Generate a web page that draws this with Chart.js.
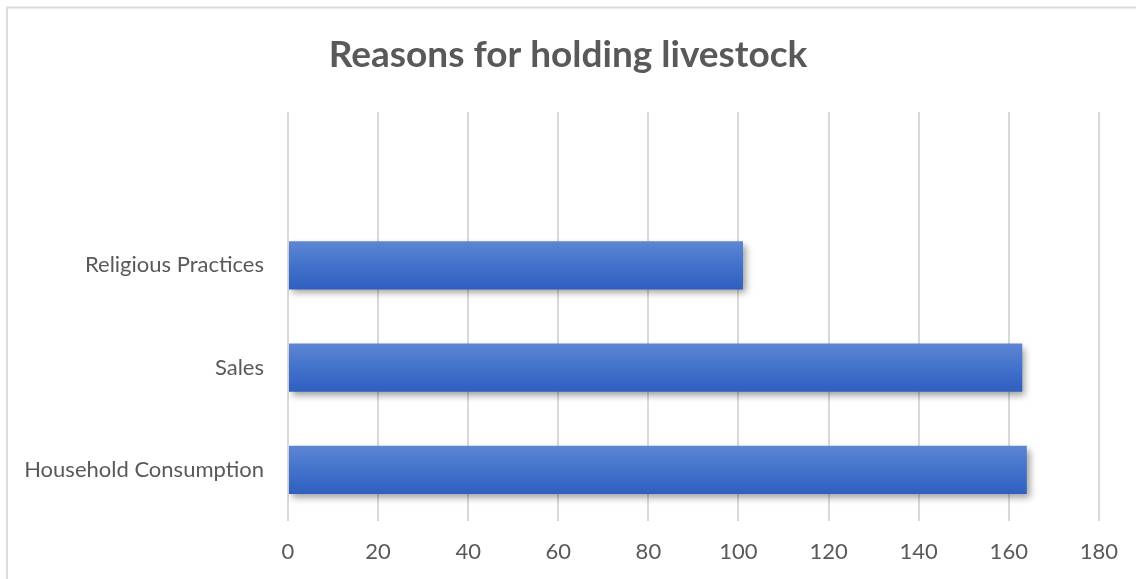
<!DOCTYPE html>
<html>
<head>
<meta charset="utf-8">
<title>Reasons for holding livestock</title>
<script src="https://cdn.jsdelivr.net/npm/chart.js@4.4.1/dist/chart.umd.min.js"></script>
<style>
    html, body { margin: 0; padding: 0; background: #fff; overflow: hidden; }
    #wrap { position: relative; width: 1136px; height: 579px; }
</style>
</head>
<body>
<div id="wrap"><canvas id="livestockChart"></canvas></div>
<script>
// ===== DATOS =====
// top row is an empty slot kept from the source sheet
const categories = ['', 'Religious Practices', 'Sales', 'Household Consumption'];
const counts = [null, 101, 163, 164];
const xTicks = [0, 20, 40, 60, 80, 100, 120, 140, 160, 180];

const chartTitle = 'Reasons for holding livestock';
const textColor = '#595959';
const gridColor = '#d9d9d9';
const fontFamily = "Lato, 'Open Sans', sans-serif";

// outer frame of the chart (left and top edges are visible)
const framePlugin = {
    id: 'frame',
    beforeDraw(chart) {
        const ctx = chart.ctx;
        ctx.save();
        ctx.strokeStyle = '#dcdcdc';
        ctx.lineWidth = 2;
        ctx.beginPath();
        ctx.moveTo(7, chart.height + 5);
        ctx.lineTo(7, 7.5);
        ctx.lineTo(chart.width + 5, 7.5);
        ctx.stroke();
        ctx.restore();
    }
};

// title centred on the whole canvas, not on the padded layout box
const titlePlugin = {
    id: 'centredTitle',
    afterDraw(chart) {
        const ctx = chart.ctx;
        ctx.save();
        ctx.fillStyle = textColor;
        ctx.font = 'bold 37px ' + fontFamily;
        ctx.textAlign = 'center';
        ctx.textBaseline = 'alphabetic';
        ctx.fillText(chartTitle, chart.width / 2, 67);
        ctx.restore();
    }
};

// soft drop shadow under the bars
const shadowPlugin = {
    id: 'barShadow',
    beforeDatasetsDraw(chart) {
        const ctx = chart.ctx;
        ctx.save();
        ctx.shadowColor = 'rgba(0, 0, 0, 0.38)';
        ctx.shadowBlur = 7;
        ctx.shadowOffsetX = 3;
        ctx.shadowOffsetY = 4;
    },
    afterDatasetsDraw(chart) {
        chart.ctx.restore();
    }
};

const barPct = 0.47;

// vertical gradient per bar, positioned from the category scale
function barGradient(context) {
    const chart = context.chart;
    const yScale = chart.scales.y;
    if (!yScale || !chart.chartArea) return '#4472c4';
    const center = yScale.getPixelForValue(context.dataIndex);
    const band = chart.chartArea.height / categories.length;
    const half = band * barPct / 2;
    const g = chart.ctx.createLinearGradient(0, center - half, 0, center + half);
    g.addColorStop(0, '#5d86d3');
    g.addColorStop(0.5, '#4372cc');
    g.addColorStop(1, '#2f5fc0');
    return g;
}

new Chart(document.getElementById('livestockChart'), {
    type: 'bar',
    data: {
        labels: categories,
        datasets: [{
            label: 'Reasons',
            data: counts,
            backgroundColor: barGradient,
            borderWidth: 0,
            barPercentage: barPct,
            categoryPercentage: 1
        }]
    },
    options: {
        indexAxis: 'y',
        responsive: true,
        maintainAspectRatio: false,
        animation: false,
        layout: { padding: { left: 0, right: 36, top: 112, bottom: 0 } },
        plugins: {
            legend: { display: false },
            tooltip: { enabled: false },
            title: { display: false }
        },
        scales: {
            x: {
                min: xTicks[0],
                max: xTicks[xTicks.length - 1],
                afterBuildTicks: function (scale) {
                    scale.ticks = xTicks.map(v => ({ value: v }));
                },
                afterFit: function (scale) {
                    scale.height = 58;
                },
                grid: {
                    color: gridColor,
                    lineWidth: 2,
                    drawTicks: false
                },
                border: { display: false },
                ticks: {
                    color: textColor,
                    padding: 18,
                    font: { family: fontFamily, size: 22 }
                }
            },
            y: {
                afterFit: function (scale) {
                    scale.width = 288;
                },
                grid: { display: false },
                border: { display: false },
                ticks: {
                    color: textColor,
                    padding: 16,
                    font: { family: fontFamily, size: 22 }
                }
            }
        }
    },
    plugins: [framePlugin, shadowPlugin, titlePlugin]
});
</script>
</body>
</html>
